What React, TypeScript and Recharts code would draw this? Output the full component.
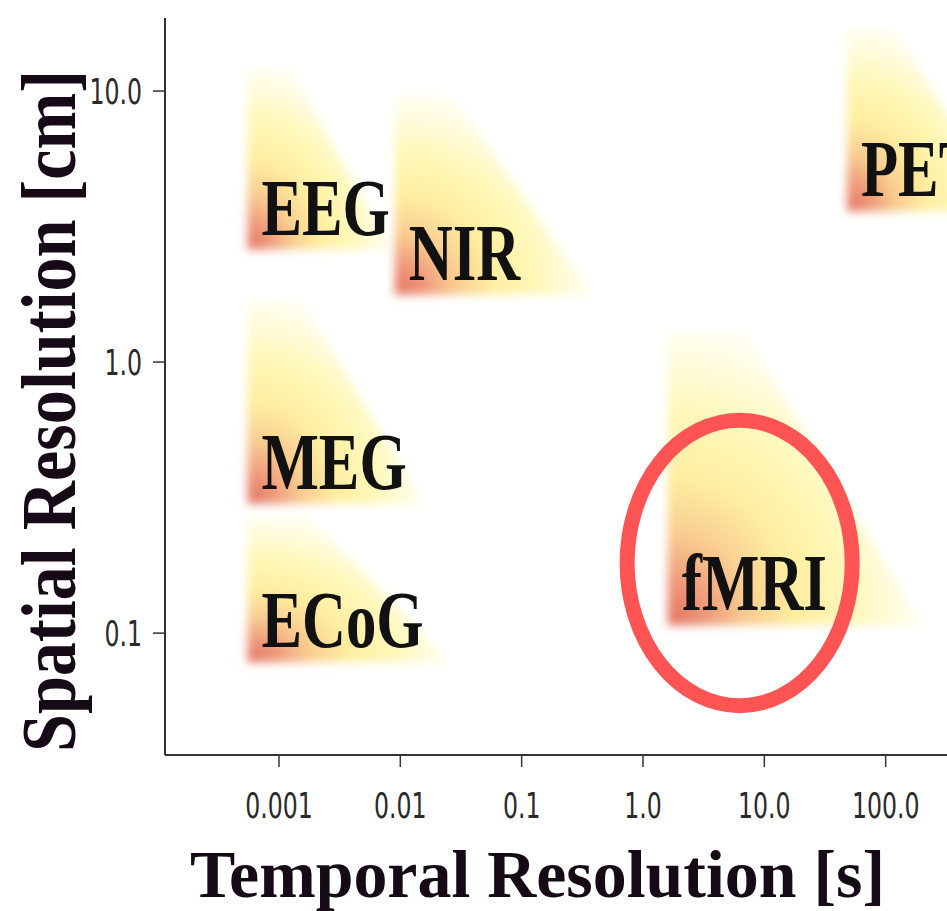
import React from 'react';
import { ComposedChart, XAxis, YAxis, ReferenceArea, Scatter, Label } from 'recharts';

// Imaging modalities: temporal range [s] and spatial range [cm]
const modalityNames = ['EEG', 'NIR', 'MEG', 'ECoG', 'fMRI', 'PET'];
const temporalFrom = [0.00055, 0.009, 0.00055, 0.00055, 1.6, 48];
const temporalTo = [0.0085, 0.38, 0.016, 0.026, 200, 1000];
const spatialFrom = [2.6, 1.77, 0.3, 0.078, 0.107, 3.6];
const spatialTo = [12, 9.5, 1.7, 0.27, 1.3, 17];

// Highlight ellipse around fMRI
const highlightTemporal = [0.74, 53];
const highlightSpatial = [0.054, 0.61];

const xTicks = [0.001, 0.01, 0.1, 1, 10, 100];
const xTickLabels = ['0.001', '0.01', '0.1', '1.0', '10.0', '100.0'];
const yTicks = [0.1, 1, 10];
const yTickLabels = ['0.1', '1.0', '10.0'];
const xDomain = [0.000115, 1000];
const yDomain = [0.0355, 18.6];

const xTitle = 'Temporal Resolution [s]';
const yTitle = 'Spatial Resolution [cm]';

const tickFont = "'DejaVu Sans Condensed', 'DejaVu Sans', sans-serif";
const serifFont = "'Liberation Serif', 'DejaVu Serif', serif";

const findLabel = (v: number, ticks: number[], labels: string[]) => {
  const i = ticks.findIndex((t) => Math.abs(Math.log10(t) - Math.log10(v)) < 1e-6);
  return i >= 0 ? labels[i] : String(v);
};

const XTick = (props: any) => {
  const { x, y, payload } = props;
  return (
    <g transform={`translate(${x},${y})`}>
      <text transform="scale(0.75,1)" textAnchor="middle" y={26} fontSize={35} fontFamily={tickFont} fill="#2a2a2a">
        {findLabel(payload.value, xTicks, xTickLabels)}
      </text>
    </g>
  );
};

const YTick = (props: any) => {
  const { x, y, payload } = props;
  return (
    <g transform={`translate(${x},${y})`}>
      <text transform="scale(0.75,1)" textAnchor="end" y={12.5} fontSize={35} fontFamily={tickFont} fill="#2a2a2a">
        {findLabel(payload.value, yTicks, yTickLabels)}
      </text>
    </g>
  );
};

const makeRegionShape = (name: string, idx: number) => (props: any) => {
  const { x, y, width, height } = props;
  if (x == null || y == null) return <g />;
  const gid = `grad-${idx}`;
  const fid = `blur-${idx}`;
  const pts = [
    [x, y],
    [x + width * 0.3, y],
    [x + width, y + height],
    [x, y + height],
  ]
    .map((p) => p.join(','))
    .join(' ');
  return (
    <g>
      <defs>
        <radialGradient id={gid} cx="0" cy="1" r="1.2" fx="0" fy="1" gradientUnits="objectBoundingBox">
          <stop offset="0" stopColor="#e2705f" stopOpacity="1" />
          <stop offset="0.12" stopColor="#ee9579" stopOpacity="1" />
          <stop offset="0.26" stopColor="#f9cc90" stopOpacity="1" />
          <stop offset="0.42" stopColor="#feeea0" stopOpacity="1" />
          <stop offset="0.62" stopColor="#fff7b4" stopOpacity="0.9" />
          <stop offset="0.82" stopColor="#fffbd8" stopOpacity="0.5" />
          <stop offset="1" stopColor="#ffffff" stopOpacity="0" />
        </radialGradient>
        <filter id={fid} x="-25%" y="-25%" width="150%" height="150%">
          <feGaussianBlur stdDeviation="5" />
        </filter>
      </defs>
      <polygon points={pts} fill={`url(#${gid})`} filter={`url(#${fid})`} />
      <text
        transform={`translate(${x + 14},${y + height - 15}) scale(0.76,1)`}
        fontSize={80}
        fontWeight="bold"
        fontFamily={serifFont}
        fill="#111"
      >
        {name}
      </text>
    </g>
  );
};

const ellipseShape = (props: any) => {
  const { x, y, width, height } = props;
  if (x == null || y == null) return <g />;
  return (
    <ellipse
      cx={x + width / 2}
      cy={y + height / 2}
      rx={width / 2}
      ry={height / 2}
      fill="none"
      stroke="#ff5454"
      strokeWidth={15}
    />
  );
};

const renderXTitle = (props: any) => {
  const vb = props.viewBox || { x: 165, y: 755 };
  return (
    <text
      x={vb.x + 25}
      y={vb.y + 142}
      fontSize={68}
      fontWeight="bold"
      fontFamily={serifFont}
      fill="#170a17"
      textLength={695}
      lengthAdjust="spacingAndGlyphs"
    >
      {xTitle}
    </text>
  );
};

const renderYTitle = (props: any) => {
  const vb = props.viewBox || { x: 0, y: 18, height: 737 };
  const cx = vb.x + 75;
  const cy = 411;
  return (
    <text
      x={cx}
      y={cy}
      transform={`rotate(-90, ${cx}, ${cy})`}
      textAnchor="middle"
      fontSize={78}
      fontWeight="bold"
      fontFamily={serifFont}
      fill="#170a17"
      textLength={682}
      lengthAdjust="spacingAndGlyphs"
    >
      {yTitle}
    </text>
  );
};

const anchorPoints = modalityNames.map((n, i) => ({ name: n, t: temporalFrom[i], s: spatialFrom[i] }));

export default function App() {
  return (
    <div style={{ position: 'absolute', left: 0, top: 0, width: 947, height: 911, overflow: 'hidden', background: '#fff' }}>
      <ComposedChart width={1010} height={911} margin={{ top: 18, right: 3, bottom: 0, left: 0 }} data={anchorPoints}>
        <XAxis
          type="number"
          dataKey="t"
          scale="log"
          domain={xDomain}
          allowDataOverflow
          ticks={xTicks}
          tick={<XTick />}
          tickSize={12}
          tickMargin={25}
          height={156}
          axisLine={{ stroke: '#333', strokeWidth: 2 }}
          tickLine={{ stroke: '#333', strokeWidth: 1.5 }}
          interval={0}
        >
          <Label content={renderXTitle} />
        </XAxis>
        <YAxis
          type="number"
          dataKey="s"
          scale="log"
          domain={yDomain}
          allowDataOverflow
          ticks={yTicks}
          tick={<YTick />}
          tickSize={12}
          tickMargin={11}
          width={165}
          axisLine={{ stroke: '#333', strokeWidth: 2 }}
          tickLine={{ stroke: '#333', strokeWidth: 1.5 }}
          interval={0}
        >
          <Label content={renderYTitle} />
        </YAxis>
        {modalityNames.map((name, i) => (
          <ReferenceArea
            key={name}
            x1={temporalFrom[i]}
            x2={temporalTo[i]}
            y1={spatialFrom[i]}
            y2={spatialTo[i]}
            ifOverflow="visible"
            shape={makeRegionShape(name, i)}
          />
        ))}
        <ReferenceArea
          x1={highlightTemporal[0]}
          x2={highlightTemporal[1]}
          y1={highlightSpatial[0]}
          y2={highlightSpatial[1]}
          ifOverflow="visible"
          shape={ellipseShape}
        />
        <Scatter dataKey="s" isAnimationActive={false} shape={() => <g />} />
      </ComposedChart>
    </div>
  );
}
